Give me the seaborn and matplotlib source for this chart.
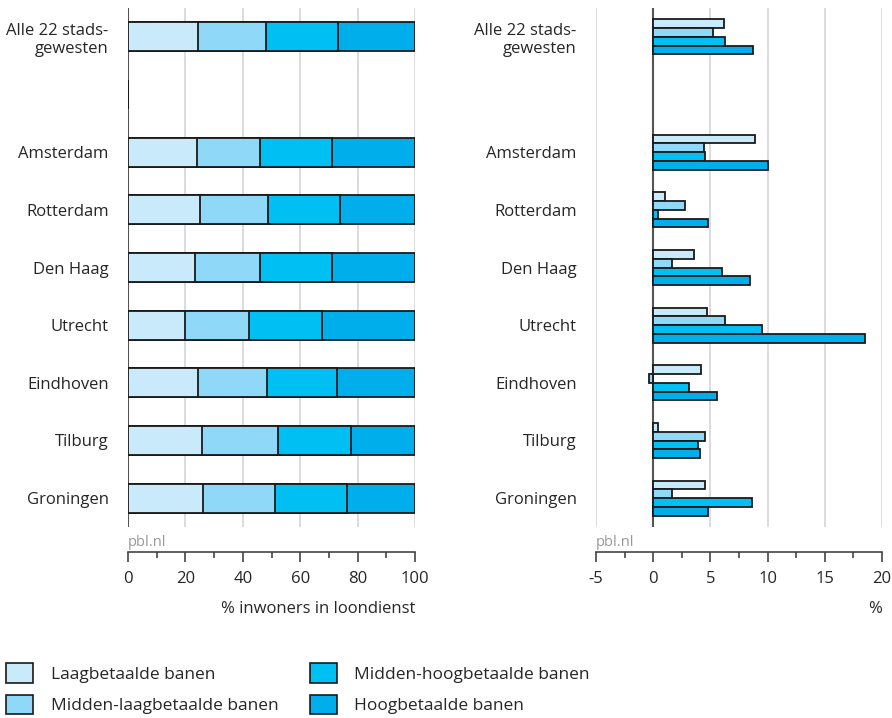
import pandas as pd
import seaborn as sns
import matplotlib.pyplot as plt
from matplotlib.patches import Patch
from matplotlib.ticker import MultipleLocator

# categories (blank row between the total and the cities)
cats = ['Alle 22 stads-\ngewesten', '', 'Amsterdam', 'Rotterdam', 'Den Haag',
        'Utrecht', 'Eindhoven', 'Tilburg', 'Groningen']
series = ['Laagbetaalde banen', 'Midden-laagbetaalde banen',
          'Midden-hoogbetaalde banen', 'Hoogbetaalde banen']
colors = ['#c9eafb', '#8fd8f8', '#00bff3', '#00aeec']

# left: share of inhabitants in employment (%)
laag = [24.3, 0, 23.9, 25.1, 23.2, 19.9, 24.5, 25.9, 26.1]
midden_laag = [23.9, 0, 22.1, 23.8, 22.9, 22.2, 24.1, 26.5, 25.2]
midden_hoog = [25.1, 0, 25.1, 24.9, 24.9, 25.4, 24.2, 25.4, 25.0]
hoog = [26.7, 0, 28.9, 26.2, 29.0, 32.5, 27.2, 22.2, 23.7]

# right: change (%)
d_laag = [6.2, None, 8.9, 1.0, 3.6, 4.7, 4.2, 0.4, 4.5]
d_midden_laag = [5.2, None, 4.4, 2.75, 1.6, 6.3, -0.4, 4.55, 1.65]
d_midden_hoog = [6.3, None, 4.5, 0.4, 6.0, 9.5, 3.1, 3.9, 8.6]
d_hoog = [8.7, None, 10.0, 4.8, 8.5, 18.5, 5.6, 4.1, 4.75]

sns.set_style('white')
plt.rcParams['font.family'] = ['Open Sans', 'DejaVu Sans']
plt.rcParams['font.size'] = 12
plt.rcParams['axes.unicode_minus'] = False

fig = plt.figure(figsize=(8.92, 7.18), dpi=100)
ax1 = fig.add_axes([128 / 892, 1 - 527 / 718, 287 / 892, 519 / 718])
ax2 = fig.add_axes([596 / 892, 1 - 527 / 718, 286 / 892, 519 / 718])

# stacked bars: draw cumulative totals, widest first
left = pd.DataFrame({'cat': cats, 'a': laag, 'b': midden_laag,
                     'c': midden_hoog, 'd': hoog})
cum = left[['a', 'b', 'c', 'd']].cumsum(axis=1)
for col, c in zip(['d', 'c', 'b', 'a'], colors[::-1]):
    sns.barplot(x=cum[col], y=left['cat'], order=cats, color=c, width=0.5,
                saturation=1, edgecolor='#1a1a1a', linewidth=1.3, orient='h',
                ax=ax1, zorder=3)

right = pd.DataFrame({'cat': cats * 4,
                      'serie': [s for s in series for _ in cats],
                      'val': d_laag + d_midden_laag + d_midden_hoog + d_hoog})
right = right.dropna()
sns.barplot(data=right, x='val', y='cat', hue='serie', order=cats,
            hue_order=series, palette=colors, saturation=1, width=0.61,
            edgecolor='#1a1a1a', linewidth=1.3, orient='h', ax=ax2,
            legend=False, zorder=3)

for ax, lim, step in [(ax1, (0, 100), 20), (ax2, (-5, 20), 5)]:
    ax.set_xlim(*lim)
    ax.set_ylim(8.5, -0.5)
    ax.xaxis.set_major_locator(MultipleLocator(step))
    ax.xaxis.set_minor_locator(MultipleLocator(step / 2))
    ax.grid(axis='x', which='major', color='#d9d9d9', linewidth=1.3, zorder=0)
    ax.set_axisbelow(True)
    ax.axvline(0, color='#555555', linewidth=1.5, zorder=2)
    for s in ['left', 'top', 'right']:
        ax.spines[s].set_visible(False)
    ax.spines['bottom'].set_position(('outward', 18))
    ax.spines['bottom'].set_color('#444444')
    ax.spines['bottom'].set_linewidth(1.2)
    ax.tick_params(axis='x', which='major', bottom=True, direction='out',
                   length=7.5, width=1.2, color='#444444', pad=6.5,
                   labelsize=12)
    ax.tick_params(axis='x', which='minor', bottom=True, direction='out',
                   length=4.5, width=1.2, color='#444444')
    ax.tick_params(axis='y', length=0, pad=14, labelsize=12)
    ax.set_ylabel('')
    ax.text(0, -0.03, 'pbl.nl', transform=ax.transAxes, va='center',
            ha='left', color='#999999', fontsize=10.5)

ax1.set_xlabel('% inwoners in loondienst', loc='right', fontsize=12,
               labelpad=10)
ax2.set_xlabel('%', loc='right', fontsize=12, labelpad=10)

handles = [Patch(facecolor=c, edgecolor='#1a1a1a', linewidth=1.2)
           for c in colors]
fig.legend(handles, series, loc='upper left',
           bbox_to_anchor=(6 / 892, 1 - 663 / 718), ncol=2, frameon=False,
           fontsize=12.5, handlelength=1.55, handleheight=1.38,
           handletextpad=1.03, columnspacing=1.8, labelspacing=0.68,
           borderpad=0, borderaxespad=0)

fig.savefig('out.png', dpi=100)
